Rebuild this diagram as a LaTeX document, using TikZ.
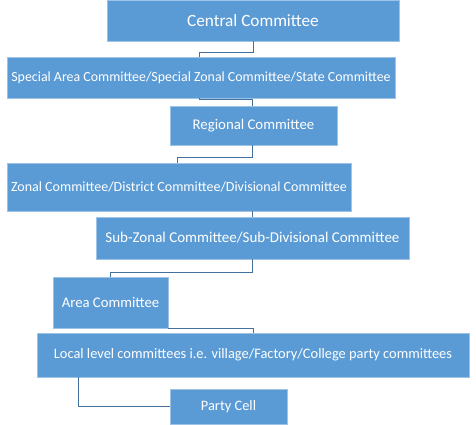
\documentclass[tikz,border=0pt]{standalone}
\usepackage{fontspec}
\setmainfont{Carlito}
\definecolor{boxblue}{HTML}{5B9BD5}
\definecolor{boxedge}{HTML}{9DC3E6}
\definecolor{linkblue}{HTML}{41719C}
\begin{document}
\begin{tikzpicture}[x=1pt,y=-1pt,
  box/.style={fill=boxblue,draw=boxedge,line width=0.6pt,text=white,inner sep=0pt,
    font=\fontsize{14.4}{16}\selectfont},
  link/.style={draw=linkblue,line width=0.9pt}]
\useasboundingbox (0,0) rectangle (476,424);
\node[box,minimum width=292,minimum height=41,font=\fontsize{17.2}{19}\selectfont] (central) at (253,20.5) {Central Committee};
\node[box,minimum width=388,minimum height=41,font=\fontsize{13.9}{15}\selectfont] (special) at (201,77.5) {Special Area Committee/Special Zonal Committee/State Committee};
\node[box,minimum width=167,minimum height=39,font=\fontsize{14.8}{16}\selectfont] (regional) at (253.5,125.5) {Regional Committee};
\node[box,minimum width=344,minimum height=48,font=\fontsize{14}{15}\selectfont] (zonal) at (179,187) {Zonal Committee/District Committee/Divisional Committee};
\node[box,minimum width=313,minimum height=42,font=\fontsize{15}{16}\selectfont] (subzonal) at (252.5,238) {Sub-Zonal Committee/Sub-Divisional Committee};
\node[box,minimum width=115,minimum height=51,font=\fontsize{14.7}{16}\selectfont] (area) at (110.5,302.5) {Area Committee};
\node[box,minimum width=432,minimum height=44] (local) at (253,355) {Local level committees i.e. village/Factory/College party committees};
\node[box,minimum width=117,minimum height=35] (cell) at (228.5,406.5) {Party Cell};
% elbow links
\draw[link] (central.south) -- ++(0,11) -| ([xshift=193]special.north west);
\draw[link] ([xshift=193]special.south west) -- ++(0,1.5) -| ([xshift=-1.5]regional.north);
\draw[link] ([xshift=-1.5]regional.south) -- ++(0,12) -| ([xshift=171]zonal.north west);
\draw[link] ([xshift=73]zonal.south) -- ([xshift=-0.5]subzonal.north);
\draw[link] (subzonal.south) -- ++(0,13) -| (area.north);
\draw[link] (area.south east) -| (local.north);
\draw[link] ([xshift=42]local.south west) |- (cell.west);
\end{tikzpicture}
\end{document}
